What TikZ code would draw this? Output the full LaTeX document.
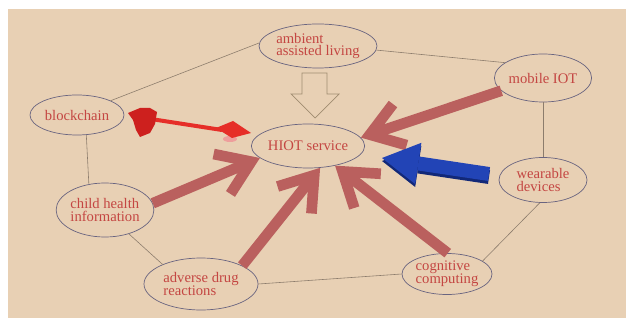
\documentclass[tikz,border=0pt]{standalone}
\usepackage{fontspec}
\setmainfont{Liberation Serif}
\usetikzlibrary{arrows.meta,shapes.geometric}
\definecolor{PaperBeige}{RGB}{232,208,180}
\definecolor{LabelRed}{RGB}{196,70,66}
\definecolor{RimGray}{RGB}{105,100,128}
\definecolor{EdgeBrown}{RGB}{140,124,108}
\definecolor{ArrowMauve}{RGB}{186,96,94}
\definecolor{ArrowBlue}{RGB}{34,68,182}
\definecolor{BlueShade}{RGB}{18,40,120}
\definecolor{DartRed}{RGB}{230,46,40}
\definecolor{FletchRed}{RGB}{205,32,30}
\definecolor{DartPink}{RGB}{238,158,156}
\definecolor{HollowRim}{RGB}{160,140,112}
\tikzset{
    topic/.style={ellipse,draw=RimGray,line width=0.6pt,inner sep=0pt,
        text=LabelRed,align=left,font=\fontsize{12.5}{11}\selectfont},
    ring/.style={draw=EdgeBrown,line width=0.5pt},
    fatarrow/.style={draw=ArrowMauve,line width=0.32cm,
        -{Straight Barb[sharp,length=0.95cm,width=1.3cm]}},
    bluearrow/.style={line width=0.42cm,-{Triangle[length=1.1cm,width=1.25cm,line width=0pt]}}
}
\newcommand\FatArrow[2]{%
    \draw[fatarrow] (#1) -- (#2);
}
\begin{document}
\begin{tikzpicture}[x=0.03cm,y=-0.03cm]
    \fill[white] (0,0) rectangle (626,320);
    \useasboundingbox (0,0) rectangle (626,320);
    \fill[PaperBeige] (8,9) rectangle (626,318);

    \node[topic,minimum width=3.54cm,minimum height=1.32cm] (Ambient) at (318,46) {ambient\\assisted living};
    \node[topic,minimum width=2.7cm,minimum height=1.44cm] (MobileIot) at (543,78) {mobile IOT};
    \node[topic,minimum width=2.82cm,minimum height=1.2cm] (Blockchain) at (77,115) {blockchain};
    \node[topic,minimum width=3.18cm,minimum height=1.32cm] (Hiot) at (308,146) {HIOT service};
    \node[topic,minimum width=2.64cm,minimum height=1.35cm] (Wearable) at (543,180) {wearable\\devices};
    \node[topic,minimum width=2.91cm,minimum height=1.62cm] (ChildHealth) at (105,210) {child health\\information};
    \node[topic,minimum width=3.42cm,minimum height=1.56cm] (Adverse) at (201,284) {adverse drug\\reactions};
    \node[topic,minimum width=2.7cm,minimum height=1.23cm] (Cognitive) at (447,274) {cognitive\\computing};

    \draw[ring] (Ambient.177) -- (Blockchain.23);
    \draw[ring] (Ambient.356) -- (MobileIot.158);
    \draw[ring] (MobileIot.south) -- (Wearable.north);
    \draw[ring] (Wearable.262) -- (Cognitive.20);
    \draw[ring] (Cognitive.west) -- (Adverse.east);
    \draw[ring] (Adverse.153) -- (ChildHealth.315);
    \draw[ring] (ChildHealth.122) -- (Blockchain.295);

    \draw[draw=HollowRim,line width=0.6pt,fill=PaperBeige]
        (302,73) -- (327,73) -- (327,94) -- (339,94) -- (315,118) -- (291,94) -- (302,94) -- cycle;

    \FatArrow{MobileIot.197}{Hiot.9}
    \FatArrow{ChildHealth.8}{Hiot.194}
    \FatArrow{Adverse.24}{Hiot.299}
    \FatArrow{Cognitive.88}{Hiot.324}

    \coordinate (BlueTail) at (489,174);
    \coordinate (BlueTip) at (382,158);
    \draw[bluearrow,draw=BlueShade,fill=BlueShade] ([yshift=-0.09cm]BlueTail) -- ([yshift=-0.09cm]BlueTip);
    \draw[bluearrow,draw=ArrowBlue,fill=ArrowBlue] (BlueTail) -- (BlueTip);

    \coordinate (DartTail) at (138,117);
    \coordinate (DartTip) at (222,130);
    \draw[DartRed,line width=0.12cm] (DartTail) -- (DartTip);
    \fill[DartPink] (230,139) ellipse (7 and 3);
    \fill[DartRed] (216,128) -- (233,121) -- (251,133) -- (232,138) -- cycle;
    \fill[FletchRed] (128,113) -- (140,108) -- (150,108) -- (157,112) -- (155,124)
        -- (150,133) -- (140,137) -- (136,130) -- (133,120) -- cycle;
\end{tikzpicture}
\end{document}
